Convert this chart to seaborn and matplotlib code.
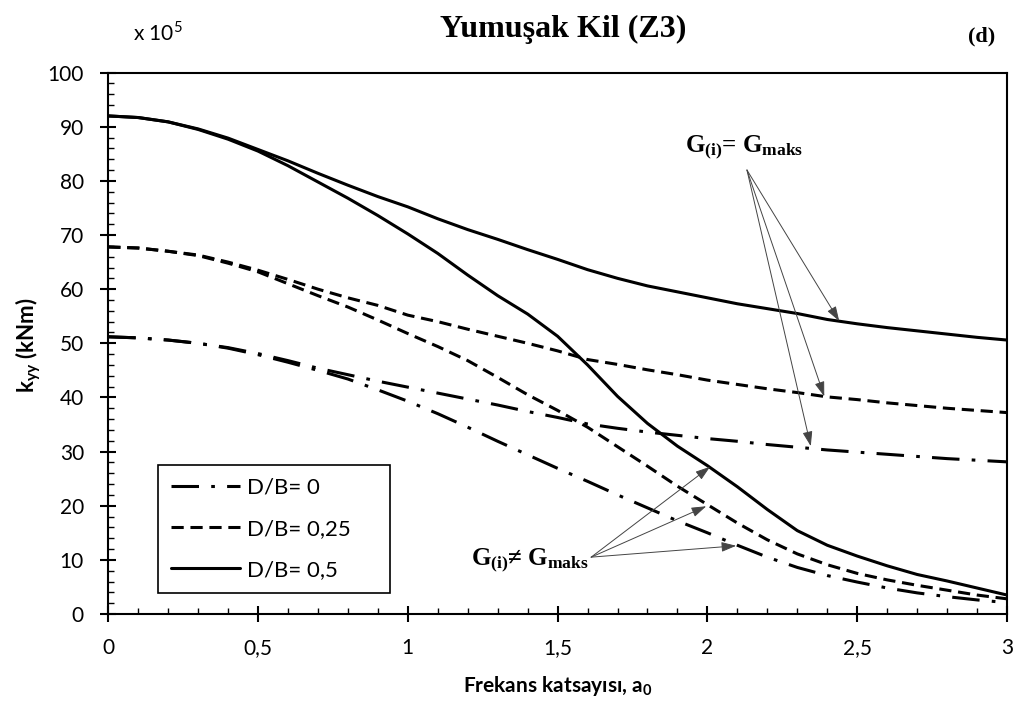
import numpy as np
import pandas as pd
import seaborn as sns
import matplotlib.pyplot as plt
from matplotlib.lines import Line2D
from matplotlib.ticker import MultipleLocator, FuncFormatter

# frequency factor a0 (x axis)
a0 = [0.0, 0.1, 0.2, 0.3, 0.4, 0.5, 0.6, 0.7, 0.8, 0.9, 1.0,
      1.1, 1.2, 1.3, 1.4, 1.5, 1.6, 1.7, 1.8, 1.9, 2.0,
      2.1, 2.2, 2.3, 2.4, 2.5, 2.6, 2.7, 2.8, 2.9, 3.0]

# k_yy (x 10^5 kNm), G(i) = G_maks
kyy_db0_gmax = [51.2, 51.0, 50.6, 50.0, 49.2, 48.1, 46.8, 45.4, 44.2, 43.0, 41.9,
                40.8, 39.7, 38.6, 37.4, 36.3, 35.1, 34.3, 33.6, 33.0, 32.4,
                31.9, 31.3, 30.8, 30.3, 29.9, 29.5, 29.1, 28.7, 28.4, 28.1]
kyy_db025_gmax = [67.8, 67.6, 67.0, 66.3, 65.0, 63.5, 61.8, 60.0, 58.4, 57.0, 55.2,
                  54.0, 52.6, 51.3, 50.0, 48.6, 47.0, 46.1, 45.1, 44.2, 43.2,
                  42.4, 41.6, 40.9, 40.1, 39.6, 39.0, 38.5, 38.0, 37.6, 37.2]
kyy_db05_gmax = [92.0, 91.7, 90.9, 89.6, 87.9, 85.8, 83.7, 81.4, 79.2, 77.1, 75.2,
                 73.0, 71.0, 69.2, 67.3, 65.5, 63.6, 62.0, 60.6, 59.5, 58.4,
                 57.3, 56.4, 55.5, 54.4, 53.6, 52.9, 52.3, 51.7, 51.1, 50.6]

# k_yy (x 10^5 kNm), G(i) != G_maks
kyy_db0_gi = [51.2, 51.0, 50.6, 50.0, 49.1, 47.9, 46.5, 45.0, 43.4, 41.4, 39.3,
              37.0, 34.5, 31.9, 29.4, 26.9, 24.5, 22.0, 19.6, 17.2, 15.0,
              12.7, 10.5, 8.6, 7.1, 5.9, 4.8, 3.9, 3.2, 2.6, 2.1]
kyy_db025_gi = [67.8, 67.6, 67.0, 66.2, 64.8, 63.2, 61.0, 58.8, 56.7, 54.3, 51.8,
                49.4, 46.8, 43.7, 40.5, 37.6, 34.5, 30.9, 27.3, 23.6, 20.2,
                16.8, 13.7, 11.1, 9.1, 7.5, 6.3, 5.3, 4.4, 3.5, 2.8]
kyy_db05_gi = [92.0, 91.7, 90.9, 89.5, 87.7, 85.5, 82.8, 79.8, 76.8, 73.6, 70.2,
               66.6, 62.6, 58.8, 55.4, 51.3, 46.0, 40.2, 35.2, 31.0, 27.4,
               23.5, 19.3, 15.4, 12.7, 10.7, 8.9, 7.3, 6.1, 4.8, 3.5]

labels = ["D/B= 0", "D/B= 0,25", "D/B= 0,5"]

sns.set_style("ticks", {"axes.edgecolor": "black", "xtick.color": "black",
                        "ytick.color": "black", "text.color": "black",
                        "axes.labelcolor": "black"})
plt.rcParams['font.family'] = ['Lato', 'DejaVu Sans']
plt.rcParams['mathtext.fontset'] = 'custom'
plt.rcParams['mathtext.rm'] = 'Lato'
plt.rcParams['mathtext.sf'] = 'Lato:bold'
plt.rcParams['mathtext.bf'] = 'Liberation Serif:bold'

fig = plt.figure(figsize=(10.21, 7.09), dpi=100)
ax = fig.add_axes([0.106, 0.134, 0.8803, 0.7636])

line_styles = [(0, (9, 4, 1.2, 4)), (0, (4, 2.2)), "-"]
series = [(kyy_db0_gmax, kyy_db0_gi), (kyy_db025_gmax, kyy_db025_gi),
          (kyy_db05_gmax, kyy_db05_gi)]

for (gmax, gi), ls in zip(series, line_styles):
    sns.lineplot(x=a0, y=gmax, ax=ax, color="black", linewidth=2.2, linestyle=ls)
    sns.lineplot(x=a0, y=gi, ax=ax, color="black", linewidth=2.2, linestyle=ls)

ax.set_xlim(0, 3)
ax.set_ylim(0, 100)
ax.xaxis.set_major_locator(MultipleLocator(0.5))
ax.xaxis.set_minor_locator(MultipleLocator(0.1))
ax.yaxis.set_major_locator(MultipleLocator(10))
ax.yaxis.set_minor_locator(MultipleLocator(2))
ax.xaxis.set_major_formatter(FuncFormatter(lambda v, p: f"{v:g}".replace(".", ",")))
ax.tick_params(which="major", direction="inout", length=11, width=1.5,
               labelsize=15)
ax.tick_params(axis="x", which="major", pad=12)
ax.tick_params(axis="y", which="major", pad=12)
ax.tick_params(which="minor", direction="in", length=4, width=1.0)
for sp in ax.spines.values():
    sp.set_linewidth(1.5)
    sp.set_visible(True)

ax.set_xlabel(r"Frekans katsayısı, $\mathsf{a_0}$", fontsize=15,
              fontweight="bold", labelpad=11)
fig.text(0.028, 0.513, r"$\mathsf{k_{yy}}$ (kNm)", fontsize=16, fontweight="bold",
         rotation=90, ha="center", va="center")

# legend
handles = [Line2D([], [], color="black", linewidth=2.2, linestyle=ls)
           for ls in line_styles]
leg = ax.legend(handles, labels, loc="lower left",
                bbox_to_anchor=(0.055, 0.038, 0.258, 0.2435), mode="expand",
                fontsize=16, handlelength=3.1, handletextpad=0.3,
                labelspacing=0.95, borderpad=0.6, borderaxespad=0,
                fancybox=False, framealpha=1, edgecolor="black")
leg.get_frame().set_linewidth(1.2)

# titles
fig.text(563 / 1021, 1 - 29 / 709, "Yumuşak Kil (Z3)", family="Liberation Serif",
         fontweight="bold", fontsize=23, ha="center", va="center")
fig.text(982 / 1021, 1 - 36 / 709, "(d)", family="Liberation Serif",
         fontweight="bold", fontsize=16, ha="center", va="center")
fig.text(133 / 1021, 1 - 33 / 709, r"x 10$^{\mathrm{5}}$", fontsize=15,
         ha="left", va="center")

# annotations
arrow = dict(arrowstyle="-|>,head_length=0.9,head_width=0.3", color="#444444",
             lw=0.7, shrinkA=0, shrinkB=0)
for tip in [(2.44, 54.1), (2.39, 40.2), (2.345, 31.0)]:
    ax.annotate("", xy=tip, xytext=(2.132, 82.0), arrowprops=arrow)
ax.text(2.122, 86.3, r"$\mathbf{G_{(i)}}$= $\mathbf{G_{maks}}$", fontsize=18,
        family="Liberation Serif", fontweight="bold", ha="center", va="center")

for tip in [(2.009, 27.2), (1.996, 19.9), (2.096, 12.6)]:
    ax.annotate("", xy=tip, xytext=(1.612, 10.5), arrowprops=arrow)
ax.text(1.406, 10.0, r"$\mathbf{G_{(i)}}$≠ $\mathbf{G_{maks}}$", fontsize=18,
        family="Liberation Serif", fontweight="bold", ha="center", va="center")

fig.savefig("out.png", dpi=100)
